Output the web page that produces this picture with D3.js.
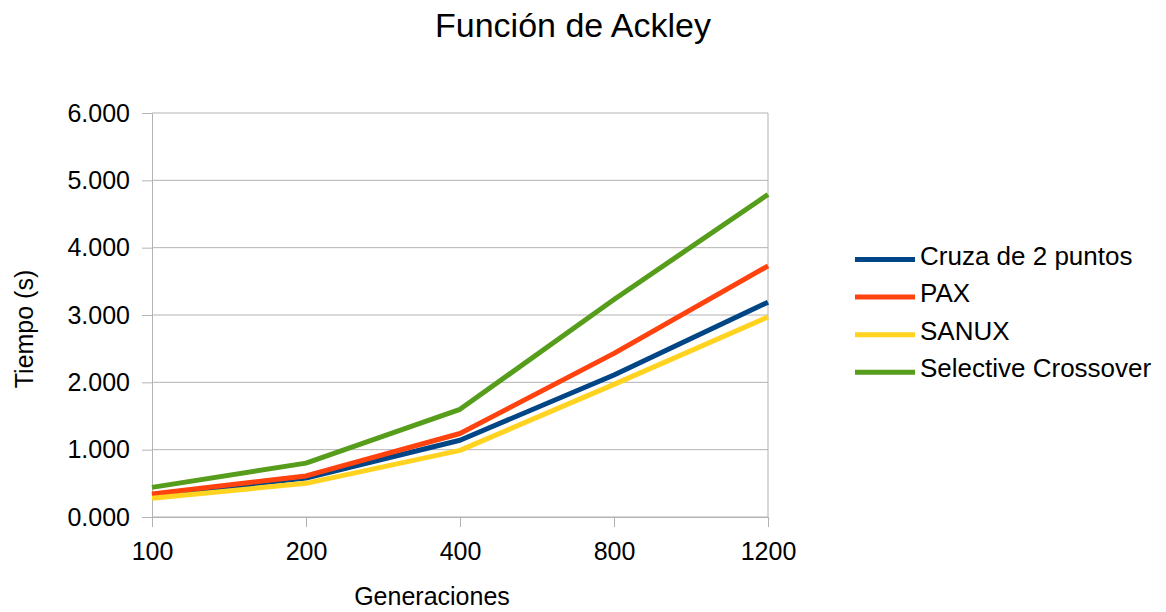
<!DOCTYPE html>
<html lang="es">
<head>
    <meta charset="UTF-8">
    <title>Función de Ackley</title>
    <style>
        body, html {
            margin: 0;
            padding: 0;
            background: #fff;
            overflow: hidden;
        }
        svg text {
            font-family: 'Liberation Sans', Arial, sans-serif;
            fill: #000;
        }
    </style>
</head>
<body>
<div id="chart"></div>
<script src="https://d3js.org/d3.v7.min.js"></script>
<script>
    // Data
    const generaciones = ["100", "200", "400", "800", "1200"];
    const cruza2Puntos = [320, 580, 1140, 2110, 3190];
    const pax = [340, 610, 1240, 2430, 3730];
    const sanux = [280, 500, 990, 1970, 2970];
    const selectiveCrossover = [440, 800, 1600, 3230, 4790];
    const yTicks = [0, 1000, 2000, 3000, 4000, 5000, 6000];

    const series = [
        { name: "Cruza de 2 puntos", values: cruza2Puntos, color: "#004586" },
        { name: "PAX", values: pax, color: "#ff420e" },
        { name: "SANUX", values: sanux, color: "#ffd320" },
        { name: "Selective Crossover", values: selectiveCrossover, color: "#579d1c" }
    ];

    const width = 1166, height = 612;
    const plot = { left: 152, right: 768, top: 113, bottom: 517 };

    const svg = d3.select("#chart").append("svg")
        .attr("width", width)
        .attr("height", height);

    const x = d3.scalePoint()
        .domain(generaciones)
        .range([plot.left, plot.right])
        .padding(0);

    const y = d3.scaleLinear()
        .domain([0, 6000])
        .range([plot.bottom, plot.top]);

    // "6.000" style labels (Spanish thousands separator, 0.000 for zero)
    const es = d3.formatLocale({ decimal: ",", thousands: ".", grouping: [3], currency: ["", "€"] });
    const fmt = v => v < 1000 ? "0." + d3.format("03d")(v) : es.format(",d")(v);

    // horizontal gridlines
    svg.append("g")
        .selectAll("line")
        .data(yTicks)
        .join("line")
        .attr("x1", plot.left)
        .attr("x2", plot.right)
        .attr("y1", d => y(d))
        .attr("y2", d => y(d))
        .attr("stroke", "#b3b3b3")
        .attr("stroke-width", 1);

    // right border of plot
    svg.append("line")
        .attr("x1", plot.right).attr("x2", plot.right)
        .attr("y1", plot.top).attr("y2", plot.bottom)
        .attr("stroke", "#b3b3b3");

    // y axis
    const yAxis = svg.append("g")
        .attr("transform", `translate(${plot.left},0)`)
        .call(d3.axisLeft(y).tickValues(yTicks).tickFormat(fmt).tickSize(10).tickPadding(12));
    yAxis.select(".domain").attr("stroke", "#b3b3b3");
    yAxis.selectAll(".tick line").attr("stroke", "#b3b3b3");
    yAxis.selectAll(".tick text")
        .style("font-size", "25px")
        .style("font-family", "'Liberation Sans', Arial, sans-serif");

    // x axis
    const xAxis = svg.append("g")
        .attr("transform", `translate(0,${plot.bottom})`)
        .call(d3.axisBottom(x).tickSize(10).tickPadding(15));
    xAxis.select(".domain").attr("stroke", "#b3b3b3");
    xAxis.selectAll(".tick line").attr("stroke", "#b3b3b3");
    xAxis.selectAll(".tick text")
        .style("font-size", "25px")
        .style("font-family", "'Liberation Sans', Arial, sans-serif");

    // lines
    const line = d3.line()
        .x((d, i) => x(generaciones[i]))
        .y(d => y(d));

    svg.append("g")
        .selectAll("path")
        .data(series)
        .join("path")
        .attr("d", d => line(d.values))
        .attr("fill", "none")
        .attr("stroke", d => d.color)
        .attr("stroke-width", 5)
        .attr("stroke-linejoin", "round");

    // title
    svg.append("text")
        .attr("x", 573)
        .attr("y", 37)
        .attr("text-anchor", "middle")
        .style("font-size", "34px")
        .text("Función de Ackley");

    // axis titles
    svg.append("text")
        .attr("x", 432)
        .attr("y", 605)
        .attr("text-anchor", "middle")
        .style("font-size", "25px")
        .text("Generaciones");

    svg.append("text")
        .attr("transform", "translate(33,329) rotate(-90)")
        .attr("text-anchor", "middle")
        .style("font-size", "25px")
        .text("Tiempo (s)");

    // legend
    const legend = svg.append("g")
        .selectAll("g")
        .data(series)
        .join("g")
        .attr("transform", (d, i) => `translate(855,${259.5 + i * 37.6})`);

    legend.append("line")
        .attr("x1", 0).attr("x2", 60)
        .attr("y1", 0).attr("y2", 0)
        .attr("stroke", d => d.color)
        .attr("stroke-width", 5);

    legend.append("text")
        .attr("x", 65)
        .attr("y", 5)
        .style("font-size", "26px")
        .text(d => d.name);
</script>
</body>
</html>
